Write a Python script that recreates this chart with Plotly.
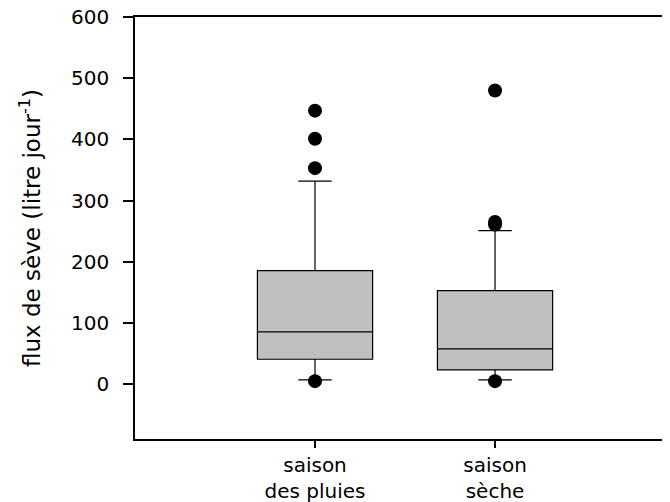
import plotly.graph_objects as go

categories = ["saison<br>des pluies", "saison<br>sèche"]
q1 = [40.8, 23.4]
median = [85.5, 57.7]
q3 = [185.6, 153.0]
lower_fence = [7.0, 7.0]
upper_fence = [332.0, 251.0]
outliers_pluies = [447, 401, 353, 5]
outliers_seche = [480, 265, 261, 5]
y_ticks = [0, 100, 200, 300, 400, 500, 600]

fig = go.Figure()
fig.add_trace(go.Box(
    x=categories, q1=q1, median=median, q3=q3,
    lowerfence=lower_fence, upperfence=upper_fence,
    boxpoints=False, width=0.64, whiskerwidth=0.29,
    fillcolor="#C0C0C0", line=dict(color="black", width=1.2),
    showlegend=False,
))
out_x = [categories[0]] * len(outliers_pluies) + [categories[1]] * len(outliers_seche)
out_y = outliers_pluies + outliers_seche
fig.add_trace(go.Scatter(
    x=out_x, y=out_y, mode="markers",
    marker=dict(color="black", size=14, symbol="circle"),
    showlegend=False,
))

fig.update_layout(
    width=670, height=502,
    margin=dict(l=127, r=8, t=9, b=71),
    plot_bgcolor="white", paper_bgcolor="white",
    font=dict(family="DejaVu Sans", size=20, color="black"),
    xaxis=dict(
        type="category", range=[-1, 1.972], automargin=False,
        showline=True, linecolor="black", linewidth=1.5, mirror=True,
        ticks="outside", ticklen=7, tickwidth=1.5, tickcolor="black",
        showgrid=False, zeroline=False,
        tickfont=dict(family="DejaVu Sans", size=20),
    ),
    yaxis=dict(
        range=[-89.5, 600], tickvals=y_ticks, automargin=False,
        showline=True, linecolor="black", linewidth=1.5, mirror=False,
        ticks="outside", ticklen=10, tickwidth=1.5, tickcolor="black",
        ticklabelstandoff=10, ticklabeloverflow="allow",
        showgrid=False, zeroline=False,
        tickfont=dict(family="DejaVu Sans", size=20),
        title=dict(text="flux de sève (litre jour<sup>-1</sup>)",
                   font=dict(family="DejaVu Sans", size=23), standoff=24),
    ),
)

fig.write_html("out.html")
